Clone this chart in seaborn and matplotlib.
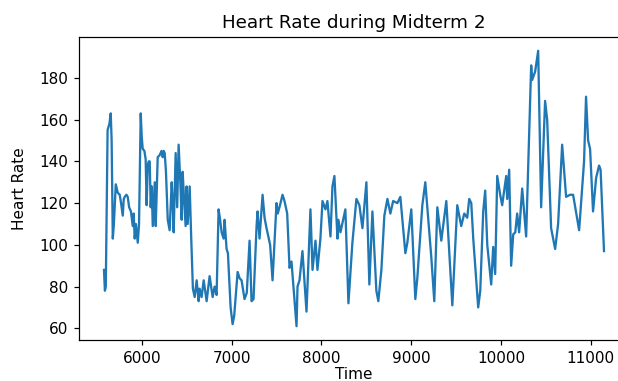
import matplotlib
matplotlib.use("Agg")
import matplotlib.pyplot as plt
import seaborn as sns
import pandas as pd

time = [5580, 5590, 5600, 5620, 5640, 5655, 5665, 5678, 5690, 5711, 5722, 5733, 5755, 5770, 5789,
        5800, 5811, 5830, 5844, 5860, 5880, 5900, 5911, 5922, 5935, 5956, 5970, 5989, 6000, 6011,
        6030, 6044, 6055, 6067, 6078, 6089, 6100, 6111, 6123, 6145, 6156, 6178, 6200, 6220, 6234,
        6245, 6256, 6270, 6290, 6311, 6334, 6345, 6356, 6378, 6395, 6411, 6430, 6445, 6456, 6470,
        6489, 6500, 6512, 6534, 6550, 6570, 6590, 6612, 6634, 6645, 6667, 6690, 6723, 6756, 6790,
        6812, 6834, 6856, 6870, 6890, 6912, 6923, 6945, 6960, 6990, 7012, 7030, 7068, 7090, 7112,
        7145, 7170, 7201, 7223, 7245, 7279, 7290, 7312, 7346, 7368, 7390, 7430, 7457, 7501, 7515,
        7540, 7568, 7590, 7620, 7646, 7668, 7724, 7735, 7757, 7790, 7835, 7879, 7902, 7935, 7957,
        7990, 8013, 8046, 8068, 8102, 8124, 8146, 8180, 8190, 8213, 8268, 8302, 8346, 8391, 8424,
        8458, 8502, 8535, 8569, 8613, 8635, 8669, 8702, 8736, 8769, 8800, 8847, 8880, 8936, 8958,
        9002, 9047, 9069, 9125, 9158, 9225, 9258, 9292, 9336, 9392, 9459, 9514, 9558, 9592, 9625,
        9647, 9670, 9692, 9747, 9770, 9803, 9825, 9848, 9892, 9914, 9936, 9959, 9992, 10014, 10059,
        10070, 10092, 10114, 10137, 10160, 10181, 10203, 10237, 10281, 10337, 10348, 10381, 10415, 10448, 10492,
        10515, 10559, 10604, 10637, 10682, 10726, 10770, 10804, 10871, 10926, 10948, 10971, 10993, 11026, 11060,
        11093, 11110, 11148]

heart_rate = [88, 78, 80, 155, 158, 163, 150, 103, 110, 129, 127, 125, 124, 120, 114,
              122, 123, 124, 123, 118, 116, 109, 115, 103, 110, 101, 110, 163, 152, 146,
              145, 141, 119, 138, 140, 140, 118, 128, 109, 130, 109, 142, 143, 145, 142,
              145, 144, 135, 112, 107, 130, 120, 106, 144, 118, 148, 130, 112, 135, 123,
              109, 128, 110, 128, 105, 79, 75, 83, 73, 79, 75, 83, 73, 85, 75,
              80, 76, 117, 113, 106, 103, 112, 98, 96, 70, 62, 66, 87, 84, 83,
              74, 77, 102, 73, 74, 109, 116, 103, 124, 113, 108, 100, 83, 120, 115,
              119, 124, 121, 115, 89, 92, 61, 80, 83, 97, 68, 117, 88, 102, 88,
              103, 121, 117, 121, 104, 128, 133, 103, 112, 106, 117, 72, 101, 122, 119,
              108, 130, 81, 116, 78, 73, 88, 114, 122, 115, 121, 120, 123, 96, 101,
              117, 74, 84, 119, 130, 94, 73, 118, 102, 121, 71, 119, 109, 115, 113,
              122, 120, 103, 70, 78, 116, 126, 100, 81, 99, 86, 133, 124, 119, 133,
              122, 136, 90, 105, 106, 115, 106, 127, 104, 186, 179, 183, 193, 118, 169,
              160, 108, 98, 110, 148, 123, 124, 124, 107, 140, 171, 150, 146, 116, 132,
              138, 136, 97]

df = pd.DataFrame({"Time": time, "Heart Rate": heart_rate})

dpi = 110
fig = plt.figure(figsize=(618 / dpi, 381 / dpi), dpi=dpi)
ax = fig.add_axes([79 / 618, 41 / 381, 550 / 618, 303 / 381])
sns.lineplot(data=df, x="Time", y="Heart Rate", ax=ax, color="#1f77b4", linewidth=1.5)
ax.set_title("Heart Rate during Midterm 2")
ax.set_xlabel("Time", labelpad=1)
ax.set_ylabel("Heart Rate", labelpad=8)
fig.savefig("out.png", dpi=dpi)
